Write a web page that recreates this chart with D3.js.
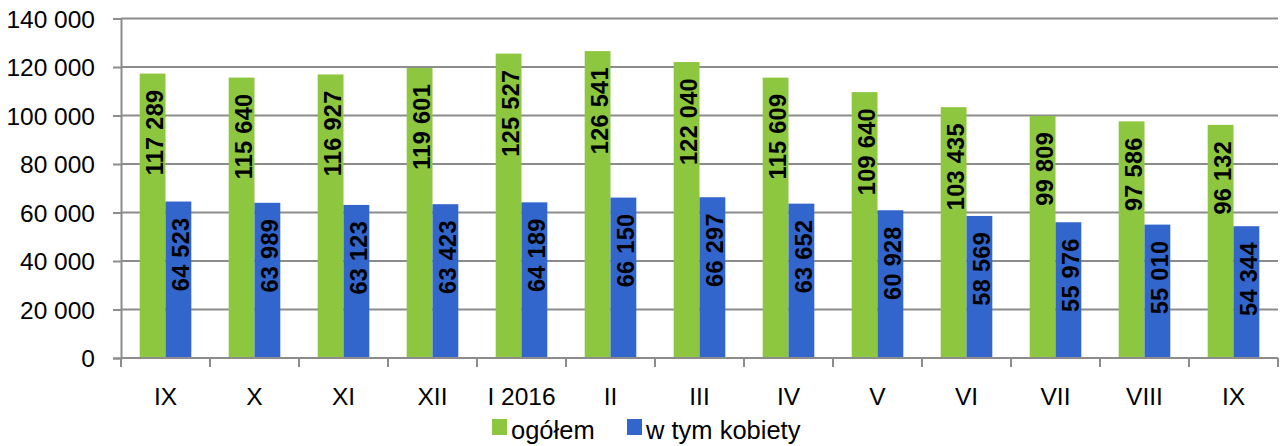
<!DOCTYPE html>
<html>
<head>
<meta charset="utf-8">
<script src="https://cdn.jsdelivr.net/npm/d3@7"></script>
<style>
  body { margin: 0; background: #fff; }
  text { font-family: "Liberation Sans", Arial, sans-serif; }
</style>
</head>
<body>
<script>
// months Sept 2015 - Sept 2016
var months = ["IX", "X", "XI", "XII", "I 2016", "II", "III", "IV", "V", "VI", "VII", "VIII", "IX"];
var ogolem = [117289, 115640, 116927, 119601, 125527, 126541, 122040, 115609, 109640, 103435, 99809, 97586, 96132];
var kobiety = [64523, 63989, 63123, 63423, 64189, 66150, 66297, 63652, 60928, 58569, 55976, 55010, 54344];
var seriesNames = ["ogółem", "w tym kobiety"];
var yTicks = [0, 20000, 40000, 60000, 80000, 100000, 120000, 140000];

var colors = ["#8DC63F", "#3366CC"];
var gridColor = "#8c8c8c";

var W = 1283, H = 446;
var margin = { top: 18.5, right: 5, bottom: 88, left: 121 };
var width = W - margin.left - margin.right;
var height = H - margin.top - margin.bottom;

var fmt = function(v) { return d3.format(",")(v).replace(/,/g, " "); };

var svg = d3.select("body").append("svg")
  .attr("width", W)
  .attr("height", H);

var g = svg.append("g")
  .attr("transform", "translate(" + margin.left + "," + margin.top + ")");

var x = d3.scaleBand()
  .domain(d3.range(months.length))
  .range([0, width])
  .paddingInner(0.42)
  .paddingOuter(0.21);

var x1 = d3.scaleBand()
  .domain([0, 1])
  .range([0, x.bandwidth()]);

var y = d3.scaleLinear()
  .domain([0, 140000])
  .range([height, 0]);

// gridlines + y axis
var yAxis = g.append("g")
  .call(d3.axisLeft(y).tickValues(yTicks).tickSize(8).tickFormat(fmt));
yAxis.select(".domain").attr("stroke", gridColor).attr("stroke-width", 2);
yAxis.selectAll(".tick line").attr("stroke", gridColor).attr("stroke-width", 2);
yAxis.selectAll(".tick text")
  .attr("x", -26)
  .attr("dy", "0.35em")
  .attr("fill", "#000")
  .style("font-size", "24.5px");

g.append("g")
  .selectAll("line")
  .data(yTicks.filter(function(d) { return d > 0; }))
  .enter()
  .append("line")
  .attr("x1", 0)
  .attr("x2", width)
  .attr("y1", function(d) { return y(d); })
  .attr("y2", function(d) { return y(d); })
  .attr("stroke", gridColor)
  .attr("stroke-width", 2);

// bars
var data = months.map(function(m, i) { return [ogolem[i], kobiety[i]]; });

var groups = g.append("g")
  .selectAll(".grp")
  .data(data)
  .enter()
  .append("g")
  .attr("class", "grp")
  .attr("transform", function(d, i) { return "translate(" + x(i) + ",0)"; });

groups.selectAll("rect")
  .data(function(d) { return d; })
  .enter()
  .append("rect")
  .attr("x", function(d, j) { return x1(j); })
  .attr("y", function(d) { return y(d); })
  .attr("width", x1.bandwidth())
  .attr("height", function(d) { return height - y(d); })
  .attr("fill", function(d, j) { return colors[j]; });

// value labels, rotated, inside end
groups.selectAll(".lbl")
  .data(function(d) { return d; })
  .enter()
  .append("text")
  .attr("class", "lbl")
  .attr("transform", function(d, j) {
    var cx = x1(j) + x1.bandwidth() / 2 + 2;
    return "translate(" + cx + "," + (y(d) + 16) + ") rotate(-90)";
  })
  .attr("text-anchor", "end")
  .attr("dy", "0.36em")
  .style("font-size", "23.5px")
  .style("font-weight", "bold")
  .style("letter-spacing", "0.3px")
  .text(function(d) { return fmt(d); });

// x axis
var xAxis = g.append("g")
  .attr("transform", "translate(0," + height + ")");

xAxis.append("line")
  .attr("x1", 0).attr("x2", width)
  .attr("stroke", gridColor).attr("stroke-width", 2);

xAxis.selectAll(".xt")
  .data(d3.range(months.length + 1))
  .enter()
  .append("line")
  .attr("x1", function(i) { return i * x.step(); })
  .attr("x2", function(i) { return i * x.step(); })
  .attr("y1", 0)
  .attr("y2", 9)
  .attr("stroke", gridColor)
  .attr("stroke-width", 2);

xAxis.selectAll(".xl")
  .data(months)
  .enter()
  .append("text")
  .attr("x", function(d, i) { return x(i) + x.bandwidth() / 2; })
  .attr("y", 47)
  .attr("text-anchor", "middle")
  .style("font-size", "24.5px")
  .text(function(d) { return d; });

// legend
var legend = svg.append("g")
  .attr("transform", "translate(492,419)");

var legendX = [0, 135];
seriesNames.forEach(function(name, i) {
  legend.append("rect")
    .attr("x", legendX[i])
    .attr("y", 0)
    .attr("width", 15)
    .attr("height", 16)
    .attr("fill", colors[i]);
  legend.append("text")
    .attr("x", legendX[i] + 19)
    .attr("y", 20)
    .style("font-size", "25.5px")
    .text(name);
});
</script>
</body>
</html>
